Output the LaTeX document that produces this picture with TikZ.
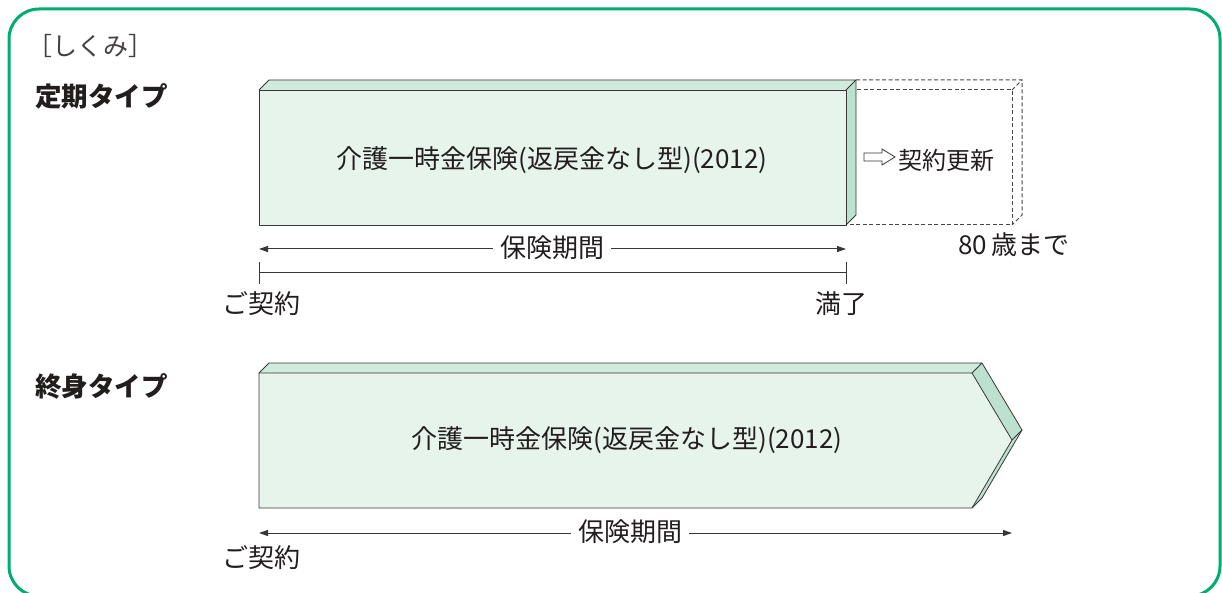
\documentclass[tikz,border=0pt]{standalone}
\usepackage{fontspec}
\setmainfont{Noto Sans CJK JP}
\usetikzlibrary{arrows.meta}
\definecolor{framegreen}{RGB}{0,172,110}
\definecolor{facefront}{RGB}{230,244,236}
\definecolor{facetop}{RGB}{208,234,221}
\definecolor{faceside}{RGB}{188,225,207}
\definecolor{edgecol}{RGB}{55,55,55}
\definecolor{txtcol}{RGB}{35,30,30}
\definecolor{dashcol}{RGB}{70,70,70}
\begin{document}
\begin{tikzpicture}[x=1pt,y=-1pt,
  every node/.style={text=txtcol, inner sep=0pt},
  boxedge/.style={draw=edgecol, line width=0.8pt, line join=round},
  dashedge/.style={draw=dashcol, dash pattern=on 4pt off 2.5pt, line width=1pt},
  spanline/.style={draw=edgecol, line width=1pt, -{Triangle[length=9pt,width=6pt]}},
  plainline/.style={draw=edgecol, line width=1pt},
  spanlabel/.style={font=\fontsize{26}{26}\selectfont, inner xsep=7pt},
  boxtext/.style={font=\fontsize{26}{26}\selectfont},
  smalltext/.style={font=\fontsize{26}{26}\selectfont},
  titletext/.style={font=\bfseries\fontsize{26.5}{26.5}\selectfont, anchor=west},
]
\useasboundingbox (0,0) rectangle (1222,593);
\begin{scope}
\clip (0,0) rectangle (1222,593);
\draw[framegreen, line width=3pt, rounded corners=30pt] (9,9) rectangle (1220,596);
\end{scope}

% headings
\node[anchor=west, font=\fontsize{25}{25}\selectfont, text=txtcol!85] (shikumi) at (27,46) {［しくみ］};
\node[titletext] (teiki) at (35,96) {定期タイプ};
\node[titletext] (shushin) at (35,386) {終身タイプ};

% ---- top box (定期タイプ)
\fill[facetop] (259,90) -- (269,80) -- (856,80) -- (846,90) -- cycle;
\fill[faceside] (846,90) -- (856,80) -- (856,215) -- (846,225) -- cycle;
\fill[facefront] (259,90) rectangle (846,225);
\draw[boxedge] (259,90) -- (269,80) -- (856,80) -- (846,90);
\draw[boxedge] (856,80) -- (856,215) -- (846,225);
\draw[boxedge] (259,90) rectangle (846,225);
\node[boxtext] (t1) at (552,160) {介護一時金保険(返戻金なし型)(2012)};

% dashed renewal box
\draw[dashedge] (856,80) -- (1022,80) -- (1022,215) -- (1012,225);
\draw[dashedge] (857,90) -- (1012,90) -- (1012,225) -- (847,225);
\draw[dashedge] (1012,90) -- (1022,80);
% hollow arrow
\draw[draw=edgecol, line width=0.8pt, fill=white, line join=miter]
  (864,153) -- (882,153) -- (882,149) -- (895,157) -- (882,165) -- (882,161) -- (864,161) -- cycle;
\node[font=\fontsize{24}{24}\selectfont, anchor=west] (koushin) at (898,160) {契約更新};
\node[smalltext, anchor=west] (age80) at (958,245) {80\,歳まで};

% span arrow 1
\coordinate (s1l) at (259,249);
\coordinate (s1r) at (846,249);
\node[spanlabel] (k1) at (552,248) {保険期間};
\draw[spanline] (k1.west |- s1l) -- (s1l);
\draw[spanline] (k1.east |- s1r) -- (s1r);

% scale line
\coordinate (c1a) at (259,262);
\coordinate (c1b) at (259,284);
\coordinate (c2a) at (846,262);
\coordinate (c2b) at (846,284);
\draw[plainline] (c1a) -- (c1b);
\draw[plainline] (c2a) -- (c2b);
\draw[plainline] (c1a |- 0,273) -- (c2a |- 0,273);
\node[smalltext] (kei1) at (261,304) {ご契約};
\node[smalltext] (manryo) at (841,304) {満了};

% ---- bottom box (終身タイプ)
\fill[facetop] (259,373) -- (269,363) -- (982,363) -- (972,373) -- cycle;
\fill[faceside] (972,373) -- (982,363) -- (1022,430) -- (1012,440) -- cycle;
\fill[faceside] (1012,440) -- (1022,430) -- (982,498) -- (972,508) -- cycle;
\fill[facefront] (259,373) -- (972,373) -- (1012,440) -- (972,508) -- (259,508) -- cycle;
\draw[boxedge] (259,373) -- (269,363) -- (982,363) -- (972,373);
\draw[boxedge] (982,363) -- (1022,430) -- (982,498) -- (972,508);
\draw[boxedge] (1012,440) -- (1022,430);
\draw[boxedge] (259,373) -- (972,373) -- (1012,440) -- (972,508) -- (259,508) -- cycle;
\node[boxtext] (t2) at (627,440) {介護一時金保険(返戻金なし型)(2012)};

% span arrow 2
\coordinate (s2l) at (259,533);
\coordinate (s2r) at (1012,533);
\node[spanlabel] (k2) at (630,532) {保険期間};
\draw[spanline] (k2.west |- s2l) -- (s2l);
\draw[spanline] (k2.east |- s2r) -- (s2r);
\node[smalltext] (kei2) at (261,558) {ご契約};
\end{tikzpicture}
\end{document}
